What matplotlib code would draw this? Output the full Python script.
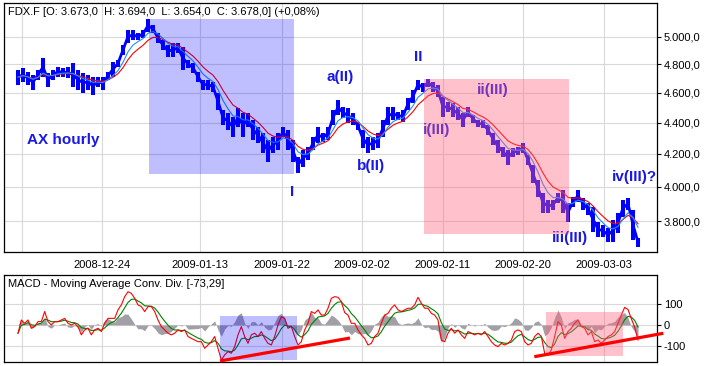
import numpy as np
import pandas as pd
import matplotlib
matplotlib.use("Agg")
import matplotlib.pyplot as plt
from matplotlib.patches import Rectangle
from matplotlib.lines import Line2D

plt.rcParams['font.family'] = ['Liberation Sans', 'DejaVu Sans']

# ---------------- data (hourly FDX) ----------------
price_hi = [4760, 4774, 4746, 4725, 4760, 4845, 4739, 4760, 4781, 4774,
            4781, 4809, 4760, 4739, 4725, 4711, 4711, 4711, 4746, 4816,
            4830, 4938, 5050, 5050, 5028, 5050, 5133, 5088, 5028, 4975,
            4938, 4953, 4953, 4924, 4830, 4809, 4746, 4690, 4690, 4676,
            4600, 4483, 4463, 4437, 4496, 4463, 4463, 4417, 4371, 4333,
            4288, 4308, 4333, 4371, 4352, 4288, 4182, 4225, 4244, 4308,
            4371, 4333, 4371, 4483, 4550, 4503, 4496, 4463, 4404, 4352,
            4308, 4308, 4333, 4420, 4503, 4503, 4470, 4483, 4564, 4621,
            4690, 4669, 4697, 4676, 4655, 4571, 4537, 4530, 4503, 4463,
            4503, 4450, 4417, 4417, 4384, 4333, 4288, 4244, 4225, 4238,
            4244, 4269, 4194, 4131, 4041, 3964, 3923, 3923, 3964, 3981,
            3905, 3941, 3981, 3935, 3905, 3882, 3797, 3779, 3763, 3808,
            3848, 3923, 3935, 3865, 3707]
price_lo = [4655, 4676, 4655, 4621, 4690, 4711, 4642, 4690, 4711, 4711,
            4700, 4642, 4620, 4600, 4620, 4584, 4640, 4621, 4690, 4711,
            4781, 4866, 4953, 4975, 4975, 4990, 5035, 5028, 4953, 4902,
            4852, 4852, 4880, 4760, 4774, 4739, 4676, 4621, 4621, 4607,
            4483, 4384, 4352, 4308, 4371, 4308, 4371, 4288, 4269, 4206,
            4150, 4206, 4225, 4308, 4225, 4150, 4083, 4119, 4162, 4225,
            4269, 4276, 4288, 4384, 4450, 4430, 4397, 4384, 4352, 4238,
            4206, 4225, 4238, 4308, 4384, 4417, 4417, 4404, 4483, 4530,
            4621, 4607, 4642, 4607, 4571, 4437, 4470, 4437, 4417, 4371,
            4437, 4397, 4371, 4365, 4320, 4256, 4206, 4182, 4131, 4182,
            4194, 4206, 4131, 4023, 3941, 3848, 3848, 3865, 3905, 3848,
            3797, 3882, 3911, 3865, 3836, 3740, 3712, 3712, 3684, 3684,
            3734, 3825, 3865, 3695, 3657]

macd_line = [-40, 24, 8, 24, -16, -8, 16, 16, 65, 16,
             0, 16, 16, 24, 32, 8, 0, 8, -8, -48,
             -24, -16, -48, -24, -16, -32, 8, 32, 32, 32,
             73, 97, 137, 161, 153, 129, 97, 89, 65, 89,
             89, 65, 24, -8, -24, -40, -48, -40, -24, -32,
             -24, -56, -65, -73, -81, -81, -113, -97, -81, -56,
             -113, -170, -145, -129, -137, -105, -48, -8, -56, -89,
             -48, -40, -56, -32, -65, -89, -97, -56, 0, 40,
             32, -16, -8, -56, -97, -81, -24, 8, 65, 56,
             73, 48, 48, 81, 129, 137, 134, 113,
             60, 48, 8, 8, -24, -48, -65, -97, -89, -56,
             -40, 8, 48, 56, 81, 97, 73, 65, 73, 81,
             81, 97, 134, 105, 81, 81, 56, 48, 24, -73,
             -81, -40, -16, -40, -24, -48, -65, -32, -40, -48,
             -40, -48, -32, -56, -81, -97, -105, -89, -97, -89,
             -73, -32, -24, -32, -81, -97, -89, -56, -40, -56,
             -137, -145, -121, -56, 16, 0, -65, -32, -16, 8,
             24, -8, -16, -48, -32, -81, -73, -89, -73, -56,
             -48, -32, 8, 48, 85, 75, 30, -10, -73]

date_labels = ['', '2008-12-24', '2009-01-13', '2009-01-22', '2009-02-02',
               '2009-02-11', '2009-02-20', '2009-03-03']
price_ticks = [3800, 4000, 4200, 4400, 4600, 4800, 5000]
price_tick_labels = ['3.800,0', '4.000,0', '4.200,0', '4.400,0', '4.600,0',
                     '4.800,0', '5.000,0']
macd_ticks = [-100, 0, 100]
macd_tick_labels = ['-100', '0', '100']

title_text = 'FDX.F [O: 3.673,0  H: 3.694,0  L: 3.654,0  C: 3.678,0] (+0,08%)'
macd_title = 'MACD - Moving Average Conv. Div. [-73,29]'
wave_labels = ['AX hourly', 'a(II)', 'II', 'ii(III)', 'i(III)', 'b(II)', 'I',
               'iii(III)', 'iv(III)?']

# ---------------- layout (positions) ----------------
date_pos = [0.74, 16.74, 36.4, 52.74, 68.86, 84.94, 101.06, 117.26]
wave_pos = [(0.0911, 0.4498), (0.5145, 0.7028), (0.6348, 0.7831),
            (0.7478, 0.6506), (0.6620, 0.4900), (0.5617, 0.3454),
            (0.4410, 0.2422), (0.8672, 0.0562), (0.9651, 0.3012)]

GRID = '#d9d9d9'
WAVE_COLOR = '#1919e6'

fig = plt.figure(figsize=(7.05, 3.66), dpi=100)
fig.patch.set_facecolor('white')
ax = fig.add_axes([4 / 705, (366 - 252) / 366, 653 / 705, 249 / 366])
ax2 = fig.add_axes([4 / 705, (366 - 361.7) / 366, 653 / 705, 86.7 / 366])

# ---------------- price panel ----------------
hi = np.array(price_hi, dtype=float)
lo = np.array(price_lo, dtype=float)
n = len(hi)
idx = np.arange(n)
mid = (hi + lo) / 2.0

ax.set_yscale('log')
ax.vlines(idx, lo, hi, color='#0000ff', lw=2.9, zorder=2)
ax.plot(idx, mid, color='#0000ff', lw=2.0, zorder=2)
ema_slow = pd.Series(mid).ewm(span=7).mean()
ema_fast = pd.Series(mid).ewm(span=4).mean()
ax.plot(idx, ema_slow, color='#ff0000', lw=0.8, zorder=3)
ax.plot(idx, ema_fast, color='#1e90ff', lw=0.8, zorder=3)

ax.set_xlim(-2.8, 127.8)
ax.set_ylim(3629, 5257)
ax.set_yticks(price_ticks, labels=price_tick_labels)
ax.minorticks_off()
ax.yaxis.tick_right()
ax.tick_params(axis='y', length=3, width=0.8, labelsize=8, pad=2)
ax.set_xticks(date_pos, labels=date_labels)
ax.tick_params(axis='x', length=0, labelsize=8, pad=6)
ax.grid(True, color=GRID, lw=0.8)
ax.set_axisbelow(True)
for s in ax.spines.values():
    s.set_linewidth(0.9)
    s.set_color('black')

ax.text(0.0061, 0.962, title_text, transform=ax.transAxes, fontsize=8,
        ha='left', va='center', color='black', zorder=6)
for lab, (px, py) in zip(wave_labels, wave_pos):
    ax.text(px, py, lab, transform=ax.transAxes, fontsize=11, fontweight='bold',
            color=WAVE_COLOR, ha='center', va='center', zorder=4)

ax.add_patch(Rectangle((0.2226, 0.3133), 0.2220, 0.6224, transform=ax.transAxes,
                       facecolor='#0000ff', alpha=0.25, edgecolor='none', zorder=5))
ax.add_patch(Rectangle((0.6436, 0.0711), 0.2221, 0.6225, transform=ax.transAxes,
                       facecolor='#ff647d', alpha=0.4, edgecolor='none', zorder=5))

# ---------------- MACD panel ----------------
macd = pd.Series(np.array(macd_line, dtype=float))
signal = macd.ewm(span=5).mean()
hist = macd - signal
mx = np.linspace(0, n - 1, len(macd))

ax2.fill_between(mx, 0, hist.values, color='#a39fa6', lw=0, zorder=2)
ax2.plot(mx, signal.values, color='#008000', lw=0.8, zorder=3)
ax2.plot(mx, macd.values, color='#ff0000', lw=0.8, zorder=3)

ax2.set_xlim(-2.8, 127.8)
ax2.set_ylim(-178, 242)
ax2.set_yticks(macd_ticks, labels=macd_tick_labels)
ax2.yaxis.tick_right()
ax2.tick_params(axis='y', length=3, width=0.8, labelsize=8, pad=2)
ax2.set_xticks(date_pos, labels=['' for _ in date_pos])
ax2.tick_params(axis='x', length=0)
ax2.grid(True, color=GRID, lw=0.8)
ax2.set_axisbelow(True)
for s in ax2.spines.values():
    s.set_linewidth(0.9)
    s.set_color('black')

ax2.text(0.0061, 0.896, macd_title, transform=ax2.transAxes, fontsize=8,
         ha='left', va='center', color='black', zorder=6)

ax2.add_patch(Rectangle((0.3308, 0.0196), 0.1174, 0.5110, transform=ax2.transAxes,
                        facecolor='#0000ff', alpha=0.25, edgecolor='none', zorder=5))
ax2.add_patch(Rectangle((0.8296, 0.0692), 0.1179, 0.5075, transform=ax2.transAxes,
                        facecolor='#ff647d', alpha=0.4, edgecolor='none', zorder=5))

ax2.add_line(Line2D([0.3308, 0.5299], [0.008, 0.273], transform=ax2.transAxes,
                    color='#ff0000', lw=2.3, solid_capstyle='butt', zorder=6, clip_on=False))
ax2.add_line(Line2D([0.8121, 1.0097], [0.0577, 0.3276], transform=ax2.transAxes,
                    color='#ff0000', lw=2.3, solid_capstyle='butt', zorder=6, clip_on=False))

fig.savefig('out.png', dpi=100, facecolor='white')
